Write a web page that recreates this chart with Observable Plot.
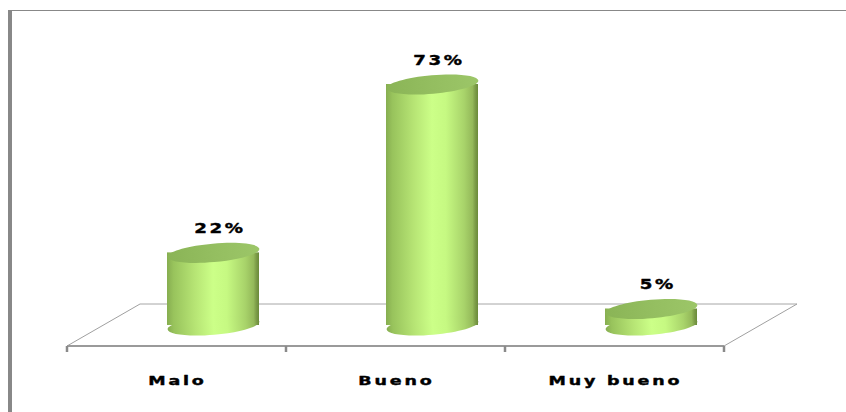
<!DOCTYPE html>
<html>
<head>
<meta charset="utf-8">
<script src="https://cdn.jsdelivr.net/npm/d3@7"></script>
<script src="https://cdn.jsdelivr.net/npm/@observablehq/plot@0.6"></script>
<style>
  html, body { margin: 0; padding: 0; background: #fff; }
  #wrap { position: relative; width: 846px; height: 412px; overflow: hidden; }
  #border { position: absolute; left: 8px; top: 10px; width: 846px; height: 420px;
            border-left: 4px solid #888; border-top: 1px solid #888; box-sizing: border-box; }
  #chart { position: absolute; left: 0; top: 0; }
</style>
</head>
<body>
<div id="wrap"><div id="border"></div><div id="chart"></div></div>
<script>
// ---- data ----
const categories = ["Malo", "Bueno", "Muy bueno"];
const values = [22, 73, 5];
const valueLabels = ["22%", "73%", "5%"];

const data = categories.map((c, i) => ({category: c, value: values[i], label: valueLabels[i]}));

// ---- styling constants ----
const DEPTH_X = 73, DEPTH_Y = 21;      // 3D floor depth
const SHIFT = DEPTH_X / 2;              // cylinders sit mid-depth
const RX = 46, RY_RATIO = 0.2;
const VAL_SPACING = 2, CAT_SPACING = 2;
const VAL_STRETCH = 1.3, CAT_STRETCH = 1.4;

// ellipse symbol for cylinder caps
const ellipse = {
  draw(context, size) {
    const rx = Math.sqrt(size / Math.PI);
    const ry = rx * RY_RATIO;
    const k = 0.5522847;
    context.moveTo(rx, 0);
    context.bezierCurveTo(rx, k * ry, k * rx, ry, 0, ry);
    context.bezierCurveTo(-k * rx, ry, -rx, k * ry, -rx, 0);
    context.bezierCurveTo(-rx, -k * ry, -k * rx, -ry, 0, -ry);
    context.bezierCurveTo(k * rx, -ry, rx, -k * ry, rx, 0);
    context.closePath();
  }
};

// floor + ticks (decoration drawn from the scales)
function floor(index, scales, values, dimensions) {
  const ns = "http://www.w3.org/2000/svg";
  const g = document.createElementNS(ns, "g");
  const x0 = dimensions.marginLeft;
  const x1 = dimensions.width - dimensions.marginRight;
  const y0 = scales.y(0);
  const line = (ax, ay, bx, by, stroke, w) => {
    const l = document.createElementNS(ns, "line");
    l.setAttribute("x1", ax); l.setAttribute("y1", ay);
    l.setAttribute("x2", bx); l.setAttribute("y2", by);
    l.setAttribute("stroke", stroke); l.setAttribute("stroke-width", w);
    g.appendChild(l);
  };
  const front = y0 + DEPTH_Y, back = y0 - DEPTH_Y;
  line(x0 + DEPTH_X, back, x1 + DEPTH_X, back, "#a6a6a6", 1);
  line(x0, front, x0 + DEPTH_X, back, "#a0a0a0", 1);
  line(x1, front, x1 + DEPTH_X, back, "#a0a0a0", 1);
  line(x0, front, x1, front, "#9a9a9a", 2);
  const step = (x1 - x0) / categories.length;
  for (let i = 0; i <= categories.length; i++) {
    const tx = x0 + i * step;
    line(tx, front, tx, front + 6, "#8a8a8a", 2.5);
  }
  return g;
}

const chart = Plot.plot({
  width: 846,
  height: 412,
  marginLeft: 67,
  marginRight: 122,
  marginTop: 20,
  marginBottom: 20,
  x: {domain: categories, padding: 0, axis: null},
  y: {domain: [0, 73], range: [325, 84], axis: null},
  marks: [
    floor,
    // body
    Plot.barY(data, {x: "category", y: "value", dx: SHIFT,
      insetLeft: (219 - 2 * RX) / 2, insetRight: (219 - 2 * RX) / 2,
      fill: "url(#bodyGrad)"}),
    // bottom cap (front half visible, same shading as body)
    Plot.dot(data, {x: "category", y: () => 0, dx: SHIFT, r: RX, symbol: ellipse,
      rotate: -5, fill: "url(#bodyGrad)", stroke: "none"}),
    // top cap
    Plot.dot(data, {x: "category", y: "value", dx: SHIFT, r: RX, symbol: ellipse,
      rotate: -5, fill: "url(#capGrad)", stroke: "none"}),
    // value labels
    Plot.text(data, {x: "category", y: "value", text: "label", dx: SHIFT + 5 + VAL_SPACING * VAL_STRETCH / 2, dy: -20,
      lineAnchor: "bottom", fontFamily: "DejaVu Sans", fontWeight: "bold", fontSize: 14,
      fill: "#000", stroke: "#000", strokeWidth: 0.4}),
    // category labels
    Plot.text(categories, {x: d => d, y: () => 0, dy: 59, dx: CAT_SPACING * CAT_STRETCH / 2 - 1, text: d => d,
      lineAnchor: "bottom", fontFamily: "DejaVu Sans", fontWeight: "bold", fontSize: 12.5,
      fill: "#000", stroke: "#000", strokeWidth: 0.4})
  ]
});

// gradients
const svgSel = d3.select(chart);
const defs = svgSel.insert("defs", ":first-child");
const bodyGrad = defs.append("linearGradient").attr("id", "bodyGrad")
  .attr("x1", "0").attr("x2", "1").attr("y1", "0").attr("y2", "0");
[[0, "#86ad50"], [0.07, "#98c35c"], [0.3, "#b6e474"], [0.5, "#ccff88"], [0.65, "#c6f982"],
 [0.85, "#a8d36a"], [0.94, "#94b95a"], [0.97, "#7c9c48"], [1, "#6a8a3a"]]
  .forEach(([o, c]) => bodyGrad.append("stop").attr("offset", o).attr("stop-color", c));
const capGrad = defs.append("linearGradient").attr("id", "capGrad")
  .attr("x1", "0").attr("x2", "1").attr("y1", "0").attr("y2", "0");
[[0, "#8ab456"], [0.5, "#94be60"], [1, "#9cc668"]]
  .forEach(([o, c]) => capGrad.append("stop").attr("offset", o).attr("stop-color", c));
svgSel.style("background", "transparent");

// widen the lettering like the original (wide, heavy Excel bold)
function stretch(el, s) {
  const tr = el.getAttribute("transform");
  if (tr) {
    el.setAttribute("transform", tr + ` scale(${s},1)`);
  } else {
    const x = +el.getAttribute("x") || 0, y = +el.getAttribute("y") || 0;
    el.removeAttribute("x"); el.removeAttribute("y");
    el.setAttribute("transform", `translate(${x},${y}) scale(${s},1)`);
  }
}
svgSel.selectAll("text").each(function() {
  const t = this.textContent;
  if (categories.includes(t)) {
    this.setAttribute("letter-spacing", CAT_SPACING);
    stretch(this, CAT_STRETCH);
  } else if (valueLabels.includes(t)) {
    this.setAttribute("letter-spacing", VAL_SPACING);
    stretch(this, VAL_STRETCH);
  }
});

document.getElementById("chart").appendChild(chart);
</script>
</body>
</html>
